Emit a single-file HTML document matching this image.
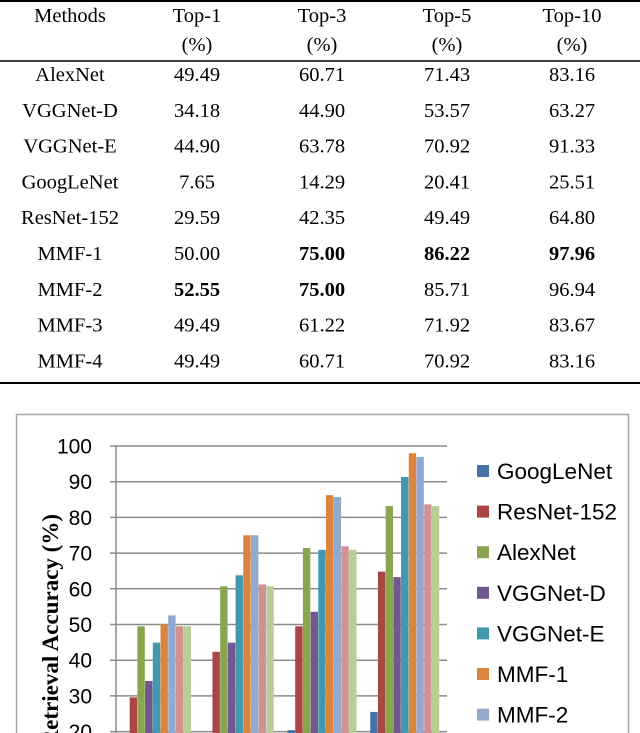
<!DOCTYPE html>
<html><head><meta charset="utf-8"><style>
html,body{margin:0;padding:0;background:#fff;width:640px;height:733px;overflow:hidden}
svg{display:block;overflow:hidden}
</style></head><body>
<svg id="root" width="640" height="733" xmlns="http://www.w3.org/2000/svg">
<g id="table" font-family="Liberation Serif, serif" font-size="20.5" fill="#000" text-anchor="middle"></g>
<g id="chart"></g>
</svg>
<script>
const methods=["AlexNet","VGGNet-D","VGGNet-E","GoogLeNet","ResNet-152","MMF-1","MMF-2","MMF-3","MMF-4"];
const top1=["49.49","34.18","44.90","7.65","29.59","50.00","52.55","49.49","49.49"];
const top3=["60.71","44.90","63.78","14.29","42.35","75.00","75.00","61.22","60.71"];
const top5=["71.43","53.57","70.92","20.41","49.49","86.22","85.71","71.92","70.92"];
const top10=["83.16","63.27","91.33","25.51","64.80","97.96","96.94","83.67","83.16"];
const boldCells=["5-1","5-2","5-3","6-0","6-1"];

const categories=["Top-1","Top-3","Top-5","Top-10"];
const seriesNames=["GoogLeNet","ResNet-152","AlexNet","VGGNet-D","VGGNet-E","MMF-1","MMF-2","MMF-3","MMF-4"];
const sGoogLeNet=[7.65,14.29,20.41,25.51];
const sResNet=[29.59,42.35,49.49,64.80];
const sAlexNet=[49.49,60.71,71.43,83.16];
const sVGGD=[34.18,44.90,53.57,63.27];
const sVGGE=[44.90,63.78,70.92,91.33];
const sMMF1=[50.00,75.00,86.22,97.96];
const sMMF2=[52.55,75.00,85.71,96.94];
const sMMF3=[49.49,61.22,71.92,83.67];
const sMMF4=[49.49,60.71,70.92,83.16];
const yTicks=[20,30,40,50,60,70,80,90,100];

const NS="http://www.w3.org/2000/svg";
function mk(tag,attrs,parent,text){const e=document.createElementNS(NS,tag);for(const k in attrs)e.setAttribute(k,attrs[k]);if(text!==undefined)e.textContent=text;parent.appendChild(e);return e;}

// table
const T=document.getElementById('table');
const cols=[70,197,322,447,572];
let e;
e=mk('line',{x1:0,x2:640,y1:1,y2:1,stroke:'#000','stroke-width':2},T);


e=mk('line',{x1:0,x2:640,y1:61,y2:61,stroke:'#000','stroke-width':1.5},T);


e=mk('line',{x1:0,x2:640,y1:383,y2:383,stroke:'#000','stroke-width':2},T);


const heads=["Methods","Top-1","Top-3","Top-5","Top-10"];
heads.forEach((h,i)=>{
  e=mk('text',{x:cols[i],y:22},T,h);
  
  
  if(i>0){e=mk('text',{x:cols[i],y:51},T,"(%)");
  
  }
});
const cols4=[top1,top3,top5,top10];
methods.forEach((m,r)=>{
  const y=81+r*35.8;
  e=mk('text',{x:cols[0],y:y},T,m);
  
  
  cols4.forEach((arr,c)=>{
    e=mk('text',{x:cols[c+1],y:y},T,arr[r]);
    if(boldCells.includes(r+"-"+c))e.setAttribute('font-weight','bold');
    
    
  });
});

// chart
const C=document.getElementById('chart');
const series=[sGoogLeNet,sResNet,sAlexNet,sVGGD,sVGGE,sMMF1,sMMF2,sMMF3,sMMF4];
const colors=["#4572a7","#aa4643","#89a54e","#71588f","#4198af","#db843d","#93a9cf","#d19392","#b9cd96"];
const x0=116,x1=447;
const yBottom=733;
const yScale=v=>446+(100-v)*3.57;
e=mk('rect',{x:16.5,y:414.5,width:612,height:330,fill:'none',stroke:'#a6a6a6','stroke-width':1.5},C);


yTicks.forEach(t=>{
  const y=yScale(t);
  e=mk('line',{x1:x0-6,x2:x1,y1:y,y2:y,stroke:'#8c8c8c','stroke-width':1.5},C);
  
  
  e=mk('text',{x:92,y:y+7.5,'text-anchor':'end','font-family':'Liberation Sans, sans-serif','font-size':21,fill:'#000'},C,String(t));
  
  
});
e=mk('line',{x1:x0,x2:x0,y1:446,y2:yBottom,stroke:'#8c8c8c','stroke-width':1.5},C);


const gw=(x1-x0)/categories.length, bw=7.7;
categories.forEach((cat,g)=>{
  series.forEach((s,i)=>{
    const x=x0+g*gw+6+i*bw, y=yScale(s[g]);
    e=mk('rect',{x:x,y:y,width:bw-0.3,height:Math.max(0,yBottom-y),fill:colors[i]},C);
    
    
  });
});
e=mk('text',{transform:'translate(58,514) rotate(-90)','text-anchor':'end','font-family':'Liberation Serif, serif','font-weight':'bold','font-size':23,fill:'#000'},C,'Retrieval Accuracy (%)');


seriesNames.forEach((n,i)=>{
  const y=471+i*40.6;
  e=mk('rect',{x:477,y:y-6,width:12,height:12,fill:colors[i]},C);
  
  
  e=mk('text',{x:497,y:y+8,'font-family':'Liberation Sans, sans-serif','font-size':22.5,fill:'#000'},C,n);
  
  
});
</script>
</body></html>
